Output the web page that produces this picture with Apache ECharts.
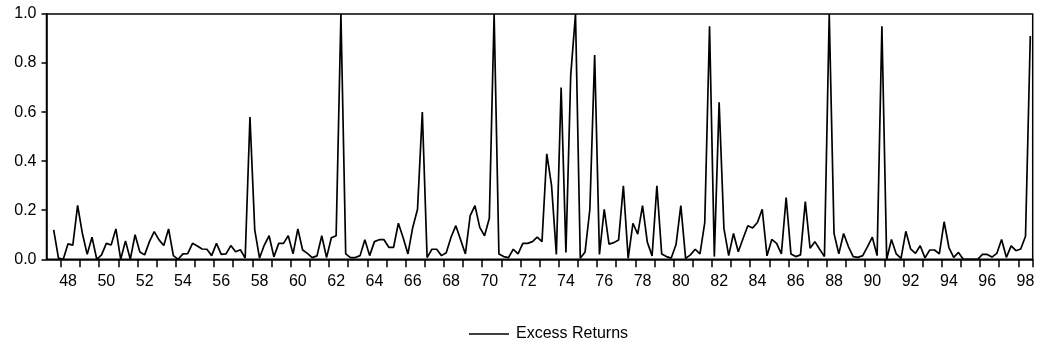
<!DOCTYPE html>
<html>
<head>
<meta charset="utf-8">
<script src="https://cdn.jsdelivr.net/npm/echarts@6/dist/echarts.min.js"></script>
<style>
  html, body { margin: 0; padding: 0; background: #fff; }
  #chart { width: 1041px; height: 348px; }
</style>
</head>
<body>
<div id="chart"></div>
<script>
// quarterly observations, first one is 1947Q2 (missing)
var firstYear = 1947
var firstQuarter = 2

var ret1940s = [null, 0.12, 0.005, 0.0, 0.063, 0.058, 0.22, 0.105, 0.02, 0.09, 0.0]
var ret1950s = [
  0.018, 0.065, 0.058, 0.124, 0.0, 0.075, 0.0, 0.1, 0.03, 0.018,
  0.072, 0.113, 0.079, 0.056, 0.124, 0.015, 0.0, 0.022, 0.023, 0.065,
  0.054, 0.042, 0.041, 0.015, 0.065, 0.02, 0.022, 0.056, 0.031, 0.039,
  0.005, 0.58, 0.12, 0.005, 0.058, 0.096, 0.01, 0.065, 0.065, 0.096
]
var ret1960s = [
  0.022, 0.124, 0.038, 0.024, 0.007, 0.014, 0.096, 0.007, 0.088, 0.096,
  1.0, 0.022, 0.007, 0.007, 0.015, 0.08, 0.015, 0.072, 0.08, 0.08,
  0.049, 0.049, 0.147, 0.088, 0.022, 0.13, 0.204, 0.6, 0.007, 0.041,
  0.041, 0.015, 0.027, 0.09, 0.137, 0.08, 0.022, 0.178, 0.219, 0.13
]
var ret1970s = [
  0.096, 0.167, 1.0, 0.022, 0.011, 0.007, 0.041, 0.022, 0.065, 0.065,
  0.072, 0.09, 0.072, 0.43, 0.3, 0.02, 0.7, 0.028, 0.75, 1.0,
  0.004, 0.03, 0.204, 0.833, 0.02, 0.204, 0.062, 0.068, 0.079, 0.3,
  0.004, 0.147, 0.103, 0.219, 0.07, 0.014, 0.3, 0.022, 0.011, 0.005
]
var ret1980s = [
  0.06, 0.219, 0.004, 0.018, 0.041, 0.022, 0.15, 0.95, 0.011, 0.64,
  0.126, 0.015, 0.105, 0.031, 0.085, 0.137, 0.128, 0.15, 0.204, 0.014,
  0.081, 0.065, 0.022, 0.252, 0.022, 0.011, 0.018, 0.235, 0.045, 0.072,
  0.041, 0.011, 1.0, 0.105, 0.022, 0.105, 0.052, 0.011, 0.008, 0.015
]
var ret1990s = [
  0.052, 0.09, 0.015, 0.95, 0.0, 0.081, 0.022, 0.004, 0.114, 0.042,
  0.024, 0.055, 0.006, 0.038, 0.038, 0.022, 0.153, 0.048, 0.008, 0.028,
  0.0, 0.0, 0.0, 0.0, 0.02, 0.02, 0.009, 0.024, 0.081, 0.008,
  0.055, 0.035, 0.042, 0.094, 0.91
]

var excessReturns = [].concat(ret1940s, ret1950s, ret1960s, ret1970s, ret1980s, ret1990s)

var quarters = []
for (var i = 0; i < excessReturns.length; i++) {
  var q = firstQuarter - 1 + i
  quarters.push((firstYear + Math.floor(q / 4)) + 'Q' + (q % 4 + 1))
}

var yTicks = [0, 0.2, 0.4, 0.6, 0.8, 1.0]
var fontFam = 'Arial, "Liberation Sans", sans-serif'

var myChart = echarts.init(document.getElementById('chart'))

var option = {
  backgroundColor: '#fff',
  animation: false,
  grid: {
    left: 46.5,
    right: 8.3,
    top: 14,
    bottom: 88.7,
    show: true,
    borderColor: '#000',
    borderWidth: 1.5
  },
  legend: {
    left: 464,
    top: 321,
    itemWidth: 40,
    itemHeight: 1.5,
    icon: 'rect',
    textStyle: {
      color: '#000',
      fontSize: 16,
      fontFamily: fontFam,
      padding: [0, 0, 0, 2]
    },
    data: ['Excess Returns']
  },
  xAxis: {
    type: 'category',
    boundaryGap: true,
    data: quarters,
    axisLine: { show: true, lineStyle: { color: '#000', width: 1.5 } },
    axisTick: {
      show: true,
      alignWithLabel: false,
      length: 8,
      lineStyle: { color: '#000', width: 1.5 },
      // one tick at the start of every year
      interval: function (idx, val) {
        return String(val).slice(-2) === 'Q1'
      }
    },
    axisLabel: {
      show: true,
      color: '#000',
      fontSize: 16,
      fontFamily: fontFam,
      margin: 14,
      interval: function (idx, val) {
        var s = String(val)
        return s.slice(-2) === 'Q2' && parseInt(s.slice(0, 4), 10) % 2 === 0
      },
      formatter: function (val) {
        return String(val).slice(2, 4)
      }
    },
    splitLine: { show: false }
  },
  yAxis: {
    type: 'value',
    min: yTicks[0],
    max: yTicks[yTicks.length - 1],
    interval: 0.2,
    axisLine: { show: true, lineStyle: { color: '#000', width: 1.5 } },
    axisTick: { show: true, length: 5, lineStyle: { color: '#000', width: 1.5 } },
    axisLabel: {
      color: '#000',
      fontSize: 16,
      fontFamily: fontFam,
      margin: 10,
      formatter: function (v) {
        return v.toFixed(1)
      }
    },
    splitLine: { show: false }
  },
  series: [
    {
      name: 'Excess Returns',
      type: 'line',
      data: excessReturns,
      symbol: 'none',
      clip: true,
      lineStyle: { color: '#000', width: 1.7 },
      itemStyle: { color: '#000' }
    }
  ]
}

myChart.setOption(option)
</script>
</body>
</html>
